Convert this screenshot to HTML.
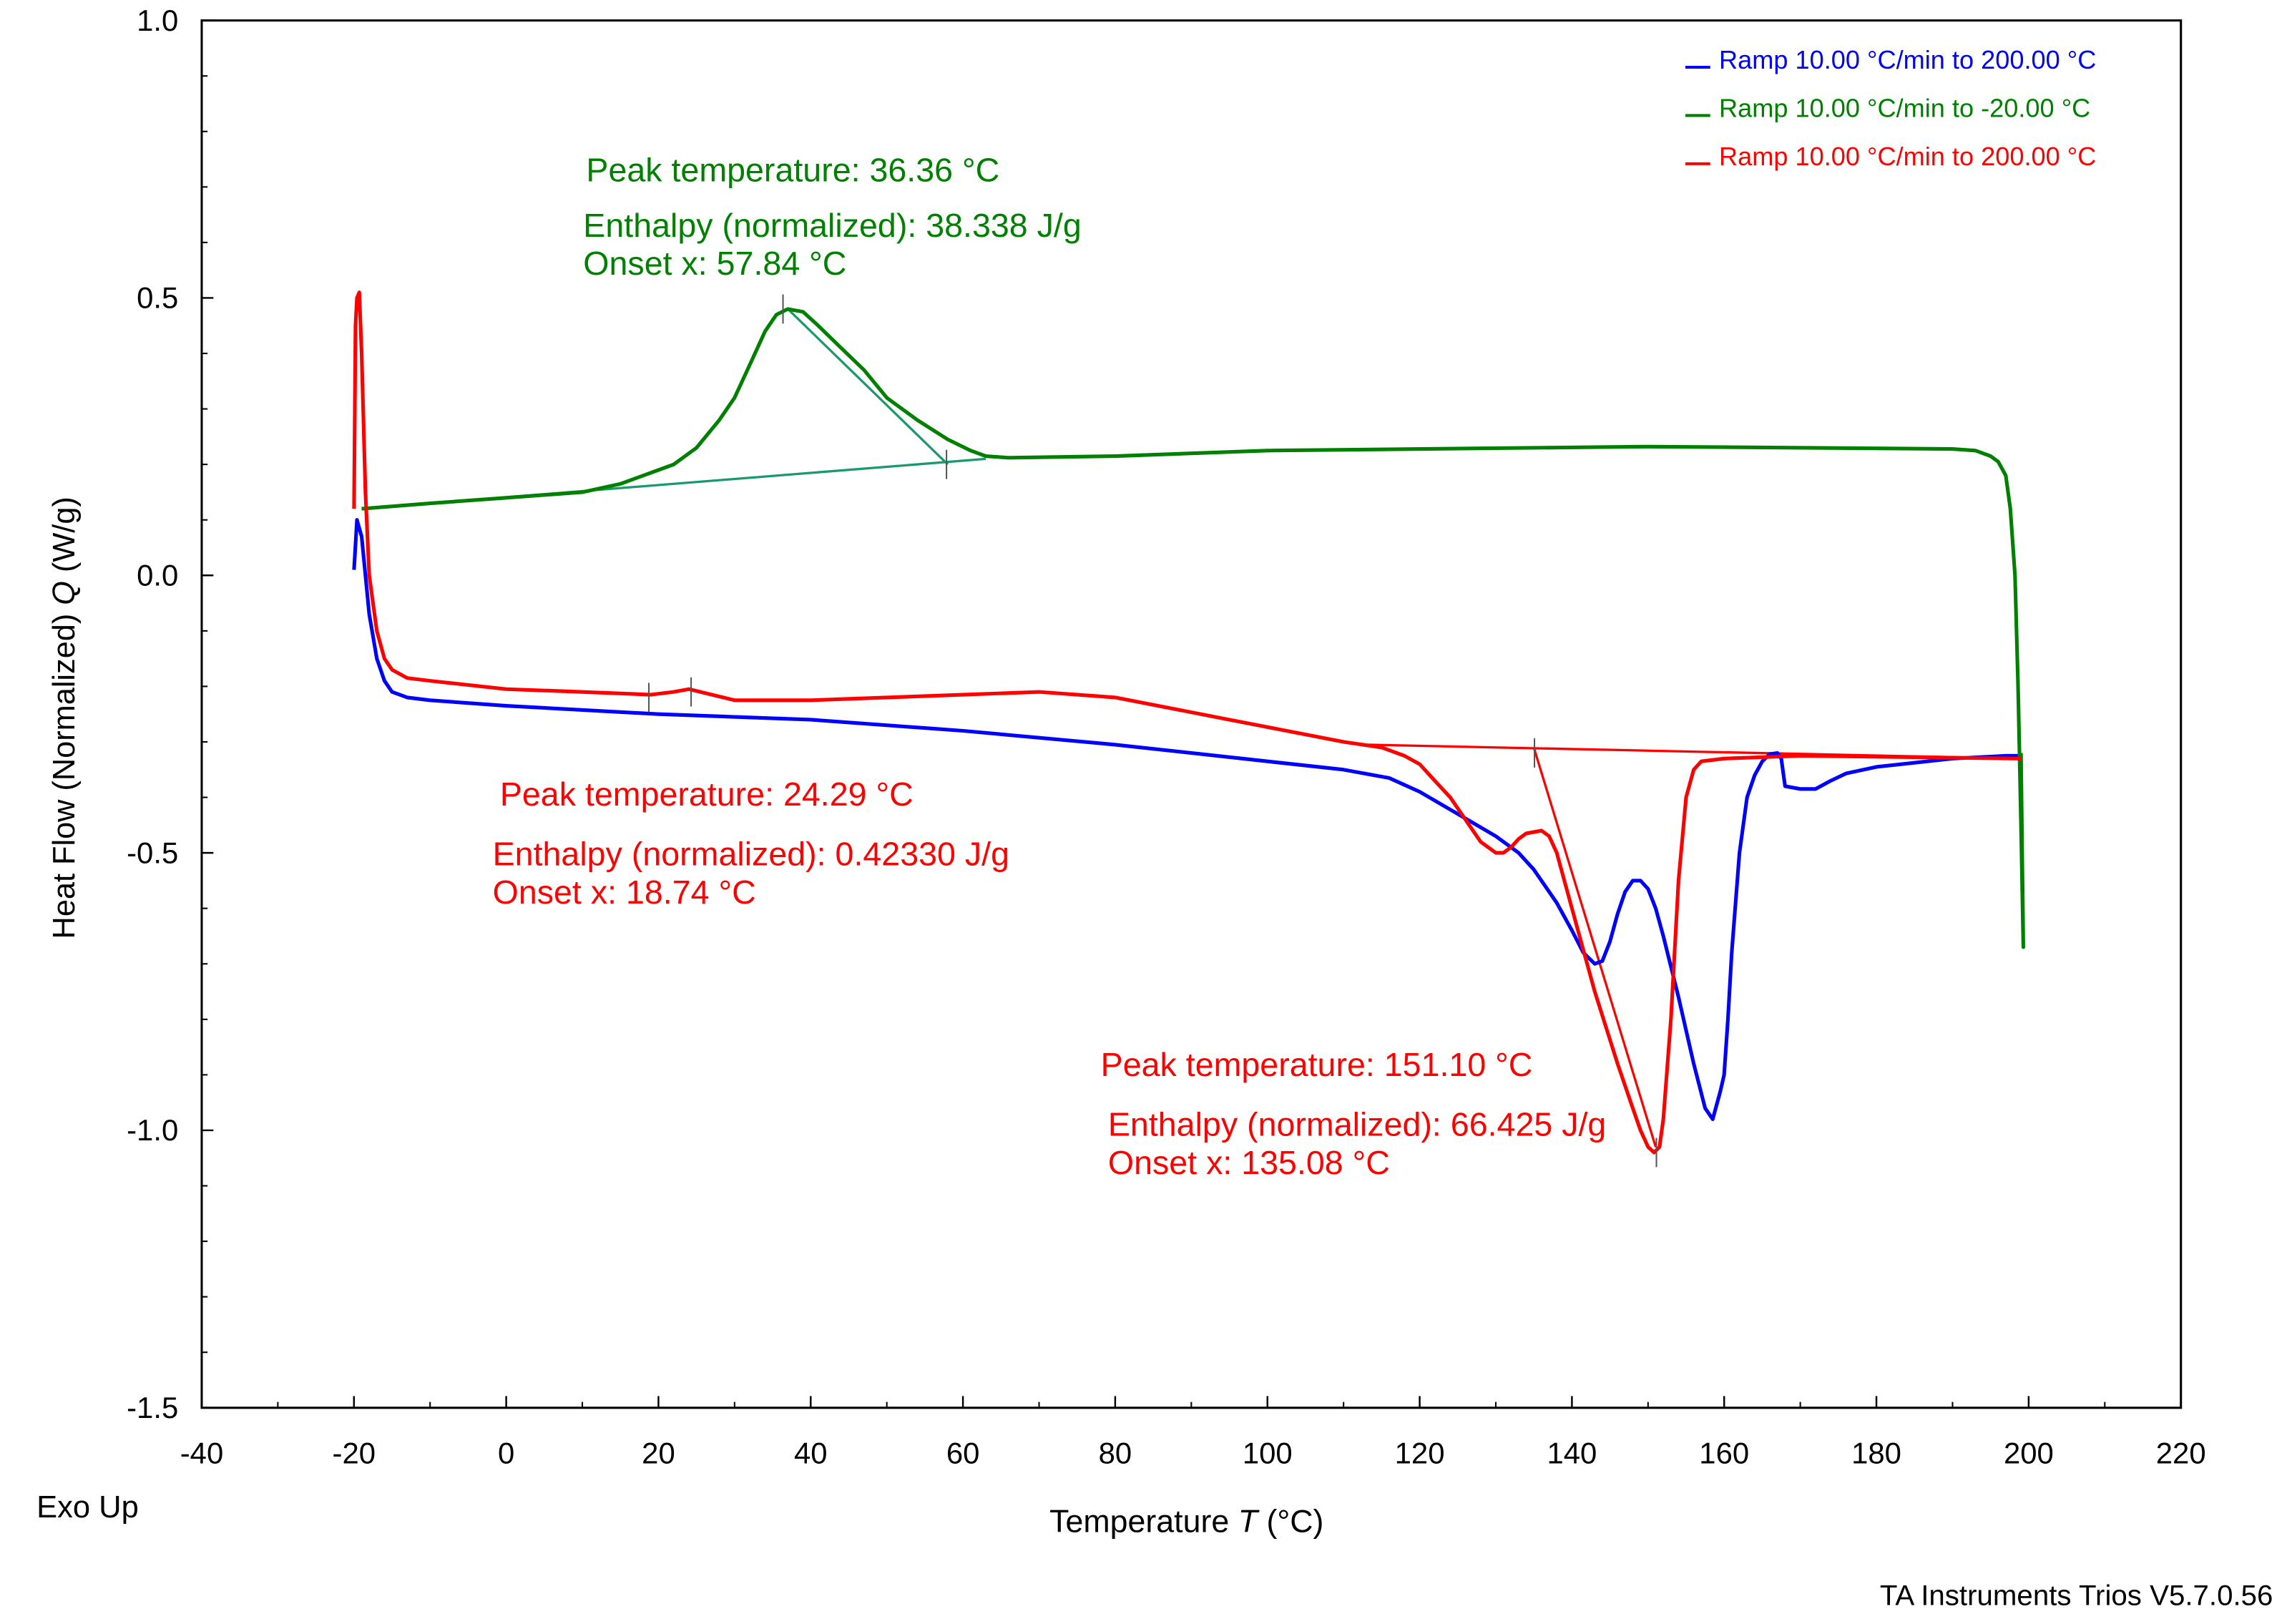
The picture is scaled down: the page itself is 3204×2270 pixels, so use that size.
<!DOCTYPE html>
<html><head><meta charset="utf-8"><style>
html,body{margin:0;padding:0;background:#fff;}
svg{display:block;font-family:"Liberation Sans",Arial,sans-serif;}
</style></head><body>
<svg id="chart" width="3204" height="2270" viewBox="0 0 1568 1110.9" xmlns="http://www.w3.org/2000/svg">
<rect x="0" y="0" width="1568" height="1111" fill="#fff"/>
<g id="axes"></g>
<g id="series"></g>
<g font-size="17.7">
<line x1="1153" y1="46" x2="1170" y2="46" stroke="#0000ff" stroke-width="2"/>
<text x="1176" y="47" fill="#0000ff">Ramp 10.00 °C/min to 200.00 °C</text>
<line x1="1153" y1="79" x2="1170" y2="79" stroke="#008000" stroke-width="2"/>
<text x="1176" y="80" fill="#008000">Ramp 10.00 °C/min to -20.00 °C</text>
<line x1="1153" y1="112" x2="1170" y2="112" stroke="#ff0000" stroke-width="2"/>
<text x="1176" y="113" fill="#ff0000">Ramp 10.00 °C/min to 200.00 °C</text>
</g>
<g font-size="22.8">
<text x="401" y="124" fill="#008000">Peak temperature: 36.36 °C</text>
<text x="399" y="162" fill="#008000">Enthalpy (normalized): 38.338 J/g</text>
<text x="399" y="188" fill="#008000">Onset x: 57.84 °C</text>
<text x="342" y="551" fill="#ff0000">Peak temperature: 24.29 °C</text>
<text x="337" y="592" fill="#ff0000">Enthalpy (normalized): 0.42330 J/g</text>
<text x="337" y="618" fill="#ff0000">Onset x: 18.74 °C</text>
<text x="753" y="736" fill="#ff0000">Peak temperature: 151.10 °C</text>
<text x="758" y="777" fill="#ff0000">Enthalpy (normalized): 66.425 J/g</text>
<text x="758" y="803" fill="#ff0000">Onset x: 135.08 °C</text>
</g>
<text x="25" y="1038" font-size="21.3">Exo Up</text>
<text x="718" y="1048" font-size="21.9">Temperature <tspan font-style="italic">T</tspan> (°C)</text>
<text transform="translate(51,491) rotate(-90)" text-anchor="middle" font-size="21.2">Heat Flow (Normalized) <tspan font-style="italic">Q</tspan> (W/g)</text>
<text x="1555" y="1098" text-anchor="end" font-size="19.7">TA Instruments Trios V5.7.0.56</text>
</svg>
<script>
const xTicks=[-40,-20,0,20,40,60,80,100,120,140,160,180,200,220];
const yTicks=[1.0,0.5,0.0,-0.5,-1.0,-1.5];
const blueT=[-20,-19.6,-19,-18.5,-18,-17,-16,-15,-13,-10,0,20,40,60,80,100,110,116,120,125,130,133,135,138,140,141.5,143,144,145,146,147,148,149,150,151,152,154,156,157.5,158.5,159.5,160,160.5,161,162,163,164,165,166,167,167.5,168,170,172,174,176,180,190,197,199];
const blueQ=[0.01,0.1,0.07,0.0,-0.07,-0.15,-0.19,-0.21,-0.22,-0.225,-0.235,-0.25,-0.26,-0.28,-0.305,-0.335,-0.35,-0.365,-0.39,-0.43,-0.47,-0.5,-0.53,-0.59,-0.64,-0.68,-0.70,-0.695,-0.66,-0.61,-0.57,-0.55,-0.55,-0.565,-0.6,-0.65,-0.76,-0.88,-0.96,-0.98,-0.93,-0.9,-0.8,-0.68,-0.5,-0.4,-0.36,-0.335,-0.322,-0.32,-0.33,-0.38,-0.385,-0.385,-0.37,-0.357,-0.345,-0.33,-0.325,-0.325];
const greenT=[199,199.3,199,198.6,198.2,197.6,197,196,195,193,190,150,100,80,66,63,61,58,54,50,47,44,41,39,37,35.5,34,32,30,28,25,22,20,15,10,0,-10,-19];
const greenQ=[-0.32,-0.67,-0.45,-0.2,0.0,0.12,0.18,0.205,0.215,0.225,0.228,0.232,0.225,0.215,0.212,0.215,0.225,0.245,0.28,0.32,0.37,0.41,0.45,0.475,0.48,0.47,0.44,0.38,0.32,0.28,0.23,0.2,0.19,0.165,0.15,0.14,0.13,0.12];
const redT=[-20,-19.8,-19.6,-19.3,-19,-18.5,-18,-17,-16,-15,-13,-10,0,10,19,22,24,27,30,40,60,70,80,95,110,115,118,120,122,124,126,128,130,131,132,133,134,136,137,138,140,143,146,148,149,150,150.8,151.5,152,153,154,155,156,157,160,170,199];
const redQ=[0.12,0.45,0.5,0.51,0.4,0.15,0.0,-0.1,-0.15,-0.17,-0.185,-0.19,-0.205,-0.21,-0.215,-0.21,-0.205,-0.215,-0.225,-0.225,-0.215,-0.21,-0.22,-0.26,-0.3,-0.31,-0.325,-0.34,-0.37,-0.4,-0.44,-0.48,-0.5,-0.5,-0.49,-0.475,-0.465,-0.46,-0.47,-0.5,-0.6,-0.75,-0.88,-0.96,-1.0,-1.03,-1.04,-1.03,-0.98,-0.8,-0.55,-0.4,-0.35,-0.335,-0.33,-0.325,-0.33];
const greenBaseT=[-19,63];
const greenBaseQ=[0.12,0.21];
const greenTanT=[37,58];
const greenTanQ=[0.48,0.2];
const redBaseT=[113,199];
const redBaseQ=[-0.305,-0.33];
const redTanT=[135,151];
const redTanQ=[-0.31,-1.03];
const greenMarkT=[36.36,57.84];
const greenMarkQ=[0.48,0.2];
const redMarkT=[18.74,24.29,135.08,151.1];
const redMarkQ=[-0.22,-0.21,-0.32,-1.04];

const X0=138,X1=1492,Y0=14,Y1=963;
function sx(t){return X0+(t+40)/260*(X1-X0);}
function sy(q){return Y0+(1.0-q)/2.5*(Y1-Y0);}
const NS="http://www.w3.org/2000/svg";
const axes=document.getElementById('axes'),ser=document.getElementById('series');
function mk(tag,attrs,parent){const e=document.createElementNS(NS,tag);for(const k in attrs)e.setAttribute(k,attrs[k]);parent.appendChild(e);return e;}
const frame=mk('rect',{x:X0,y:Y0,width:X1-X0,height:Y1-Y0,fill:'none',stroke:'#000','stroke-width':1.5},axes);


xTicks.forEach(t=>{
 const x=sx(t);
 const l=mk('line',{x1:x,y1:Y1,x2:x,y2:Y1-8,stroke:'#000','stroke-width':1.2},axes);
 
 
 const tx=mk('text',{x:x,y:Y1+38,'text-anchor':'middle','font-size':20.5},axes);
 tx.textContent=t;
 
 
 if(t<220){const m=mk('line',{x1:sx(t+10),y1:Y1,x2:sx(t+10),y2:Y1-4,stroke:'#000','stroke-width':1},axes);
 
 }
});
yTicks.forEach(q=>{
 const y=sy(q);
 const l=mk('line',{x1:X0,y1:y,x2:X0+8,y2:y,stroke:'#000','stroke-width':1.2},axes);
 
 
 const tx=mk('text',{x:X0-16,y:y+7,'text-anchor':'end','font-size':20.5},axes);
 tx.textContent=q.toFixed(1);
 
 
 if(q>-1.5){for(let k=1;k<5;k++){const mm=mk('line',{x1:X0,y1:sy(q-k*0.1),x2:X0+4,y2:sy(q-k*0.1),stroke:'#000','stroke-width':1},axes);
 
 }}
});
function line(T,Q,color,w,name){
 const pts=T.map((t,i)=>sx(t).toFixed(1)+','+sy(Q[i]).toFixed(1)).join(' ');
 const p=mk('polyline',{points:pts,fill:'none',stroke:color,'stroke-width':w,'stroke-linejoin':'round'},ser);
 
 
}
line(greenBaseT,greenBaseQ,'#1a9a6a',1.6,'green-baseline');
line(greenTanT,greenTanQ,'#1a9a6a',1.6,'green-onset-tangent');
line(redBaseT,redBaseQ,'#ff0000',1.6,'red-baseline');
line(redTanT,redTanQ,'#ff0000',1.6,'red-onset-tangent');
line(blueT,blueQ,'#0000ff',2.5,'blue-heating-curve');
line(greenT,greenQ,'#008000',2.5,'green-cooling-curve');
line(redT,redQ,'#ff0000',2.5,'red-heating-curve');
function marks(T,Q,name){T.forEach((t,i)=>{
 const m=mk('line',{x1:sx(t),y1:sy(Q[i])-10,x2:sx(t),y2:sy(Q[i])+10,stroke:'#555','stroke-width':1},ser);
 
 
});}
marks(greenMarkT,greenMarkQ,'green-marker');
marks(redMarkT,redMarkQ,'red-marker');
</script>
</body></html>
